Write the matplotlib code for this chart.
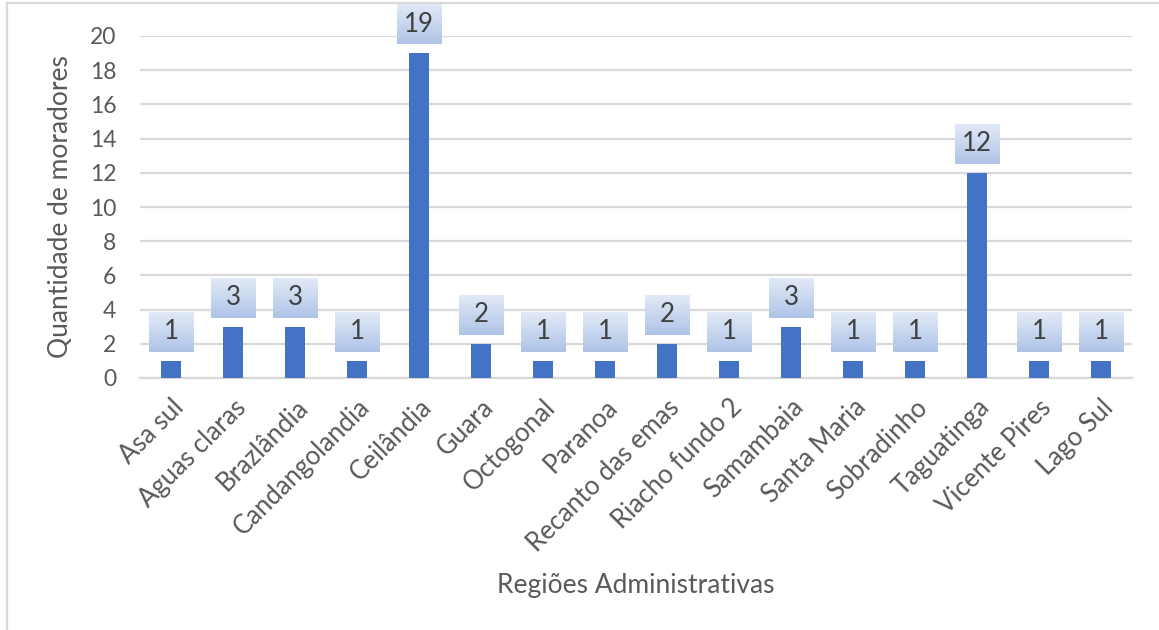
import matplotlib; matplotlib.use('Agg')
import matplotlib.pyplot as plt
import numpy as np
from matplotlib.colors import LinearSegmentedColormap

regioes = ['Asa sul', 'Aguas claras', 'Brazlândia', 'Candangolandia', 'Ceilândia',
           'Guara', 'Octogonal', 'Paranoa', 'Recanto das emas', 'Riacho fundo 2',
           'Samambaia', 'Santa Maria', 'Sobradinho', 'Taguatinga', 'Vicente Pires',
           'Lago Sul']
moradores = [1, 3, 3, 1, 19, 2, 1, 1, 2, 1, 3, 1, 1, 12, 1, 1]
yticks = np.arange(0, 21, 2)

plt.rcParams['font.family'] = ['Lato', 'DejaVu Sans']

fig = plt.figure(figsize=(11.59, 6.30), dpi=100)
ax = fig.add_axes([140/1159, 1 - 378/630, (1132-140)/1159, (378-36)/630])

x = np.arange(len(regioes))
ax.bar(x, moradores, width=0.32, color='#4472C4', zorder=3)

ax.set_ylim(0, 20)
ax.set_yticks(yticks)
ax.yaxis.grid(True, color='#d9d9d9', linewidth=1.6, zorder=0)
for s in ['top', 'right', 'left']:
    ax.spines[s].set_visible(False)
ax.spines['bottom'].set_color('#d9d9d9')
ax.spines['bottom'].set_linewidth(1.6)
ax.tick_params(axis='both', length=0, colors='#595959')
ax.tick_params(axis='y', pad=17, labelsize=16.5)
ax.set_xticks(x)
ax.set_xticklabels(regioes, rotation=45, ha='right', rotation_mode='anchor')
ax.tick_params(axis='x', pad=12, labelsize=18.5)

ax.set_ylabel('Quantidade de moradores', fontsize=19, color='#595959')
ax.set_xlabel('Regiões Administrativas', fontsize=19, color='#595959')
ax.xaxis.set_label_coords(0.5, -0.57)
ax.yaxis.set_label_coords(-0.068, 0.5)

# data label boxes with a soft gradient
cmap = LinearSegmentedColormap.from_list('lbl', ['#aec3e7', '#e2eaf6'])
grad = np.linspace(0, 1, 64).reshape(-1, 1)
px_x = (1132 - 140) / len(regioes)
px_y = (378 - 36) / 20.0
bw = 45 / px_x
bh = 40 / px_y
gap = 9 / px_y
for xi, v in zip(x, moradores):
    y0 = v + gap
    ax.imshow(grad, cmap=cmap, origin='lower', aspect='auto',
              extent=(xi - bw/2, xi + bw/2, y0, y0 + bh),
              zorder=4, clip_on=False, interpolation='bilinear')
    ax.text(xi, y0 + bh/2, str(v), ha='center', va='center', fontsize=18.5,
            color='#404040', zorder=5, clip_on=False)
ax.set_xlim(-0.5, len(regioes) - 0.5)
ax.set_ylim(0, 20)
ax.set_aspect('auto')

# outer chart border (left and top visible)
fig.add_artist(plt.Line2D([7/1159, 7/1159], [0, 1 - 3/630], color='#d9d9d9', lw=1.6))
fig.add_artist(plt.Line2D([7/1159, 1], [1 - 3/630, 1 - 3/630], color='#d9d9d9', lw=1.6))

fig.savefig('out.png', dpi=100)
